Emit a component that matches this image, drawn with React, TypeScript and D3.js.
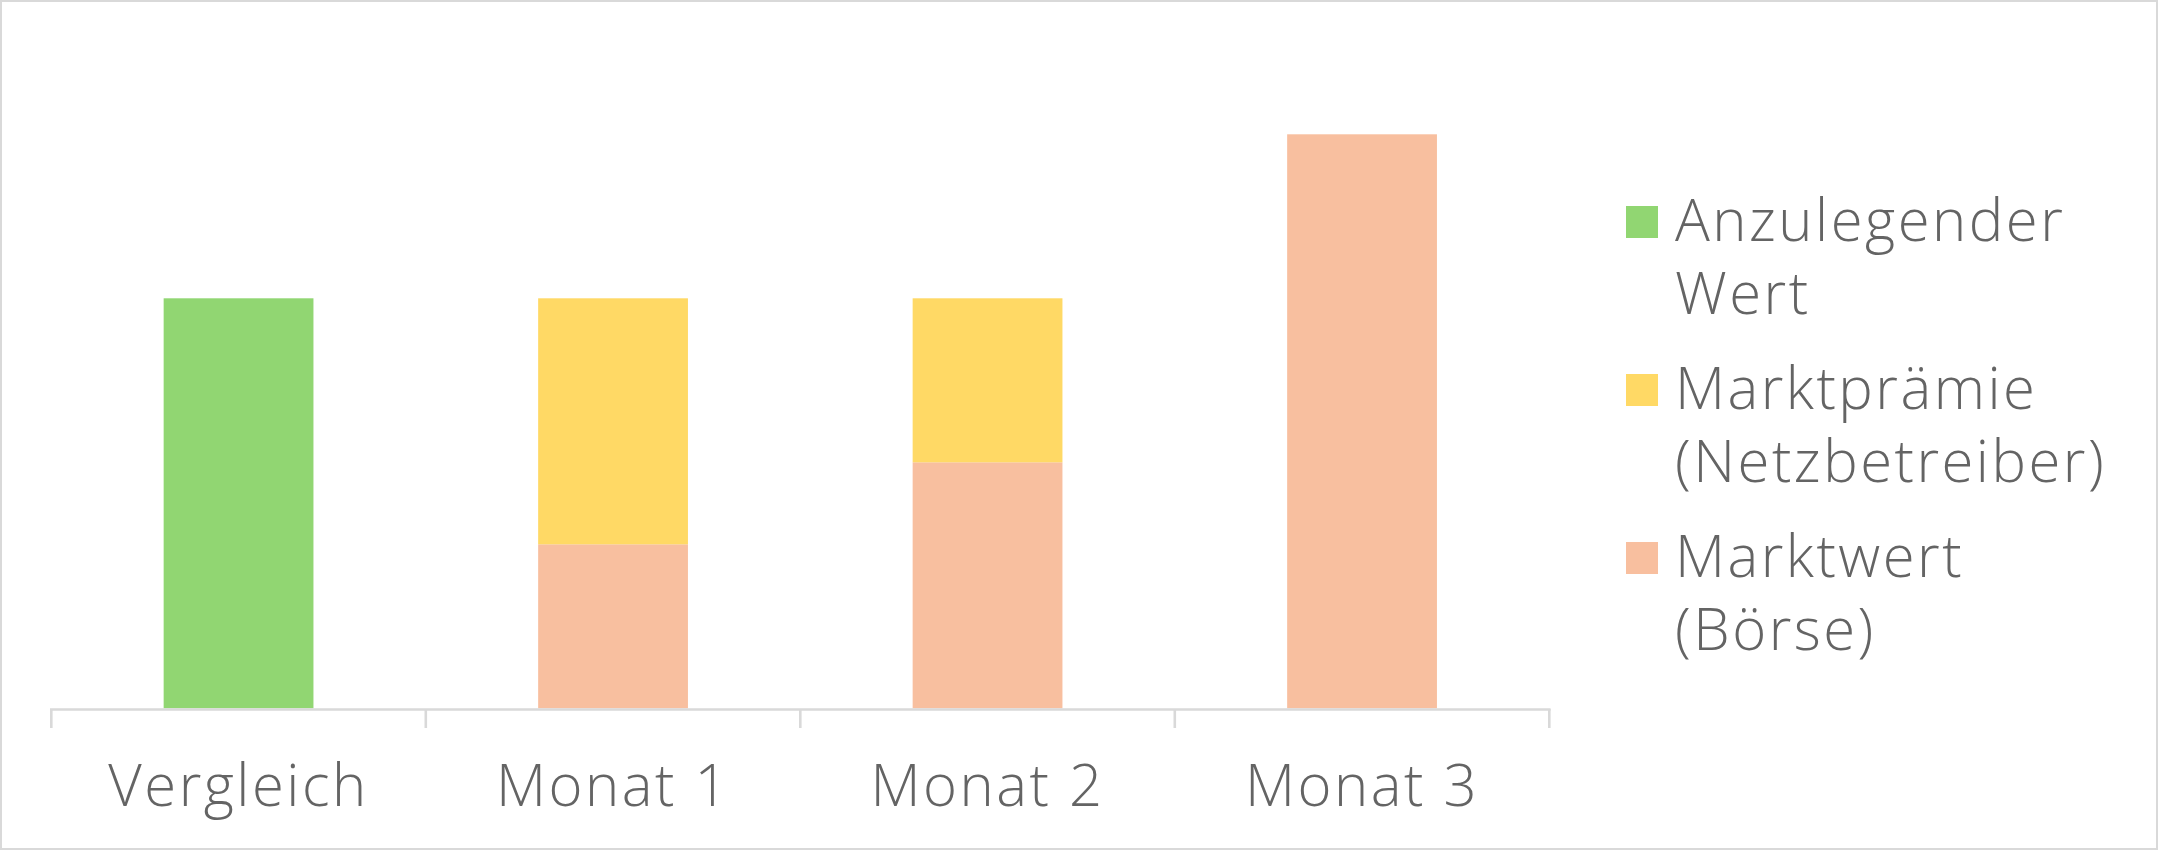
import React from "react";
import * as d3 from "d3";

const categories = ["Vergleich", "Monat 1", "Monat 2", "Monat 3"];
const anzulegenderWert = [10, 0, 0, 0];
const marktpraemie = [0, 6, 4, 0];
const marktwert = [0, 4, 6, 14];
const seriesNames = ["Anzulegender Wert", "Marktprämie (Netzbetreiber)", "Marktwert (Börse)"];
const legendLines = [["Anzulegender", "Wert"], ["Marktprämie", "(Netzbetreiber)"], ["Marktwert", "(Börse)"]];
const colors = ["#91d672", "#ffd965", "#f8bf9f"];

const W = 2158;
const H = 850;
const FONT = "'Open Sans', 'DejaVu Sans', sans-serif";
const TEXT = "#646464";
const GRID = "#d9d9d9";

export default function App() {
  const x = d3.scaleBand<string>().domain(categories).range([51.3, 1549.3]).paddingInner(0.6).paddingOuter(0.3);
  const y = d3.scaleLinear().domain([0, 16]).range([708.3, 52.3]);

  const rows = categories.map((c, i) => ({
    cat: c,
    anz: anzulegenderWert[i],
    mwert: marktwert[i],
    mpr: marktpraemie[i],
  }));
  const stack = d3.stack<any>().keys(["anz", "mwert", "mpr"]);
  const stacked = stack(rows);
  const colorByKey: Record<string, string> = { anz: colors[0], mpr: colors[1], mwert: colors[2] };

  const step = x.step();
  const boundaries = d3.range(categories.length + 1).map((i) => 51.3 + i * step);

  return (
    <svg width={W} height={H} style={{ position: "fixed", left: 0, top: 0, display: "block", background: "#fff" }}>
      <rect x={1} y={1} width={W - 2} height={H - 2} fill="#fff" stroke={GRID} strokeWidth={2} />
      {stacked.map((layer) =>
        layer.map((d, i) =>
          d[1] - d[0] > 0 ? (
            <rect
              key={layer.key + i}
              x={x(categories[i])}
              y={y(d[1])}
              width={x.bandwidth()}
              height={y(d[0]) - y(d[1])}
              fill={colorByKey[layer.key as string]}
            />
          ) : null
        )
      )}
      <line x1={50} x2={1550.6} y1={709.5} y2={709.5} stroke={GRID} strokeWidth={2.4} />
      {boundaries.map((b, i) => (
        <line key={"t" + i} x1={b} x2={b} y1={709} y2={728} stroke={GRID} strokeWidth={2.6} />
      ))}
      {categories.map((c) => (
        <text
          key={c}
          x={(x(c) as number) + x.bandwidth() / 2}
          y={806}
          textAnchor="middle"
          fontFamily={FONT}
          fontSize={58}
          fontWeight={350}
          letterSpacing={2.5}
          fill={TEXT}
        >
          {c}
        </text>
      ))}
      {seriesNames.map((s, i) => {
        const top = [206, 374, 542][i];
        return (
          <g key={s}>
            <rect x={1626} y={top} width={32} height={32} fill={colors[i]} />
            {legendLines[i].map((ln, j) => (
              <text
                key={j}
                x={1675}
                y={top + 35 + j * 73}
                fontFamily={FONT}
                fontSize={58}
                fontWeight={350}
                letterSpacing={2.5}
                fill={TEXT}
              >
                {ln}
              </text>
            ))}
          </g>
        );
      })}
    </svg>
  );
}
